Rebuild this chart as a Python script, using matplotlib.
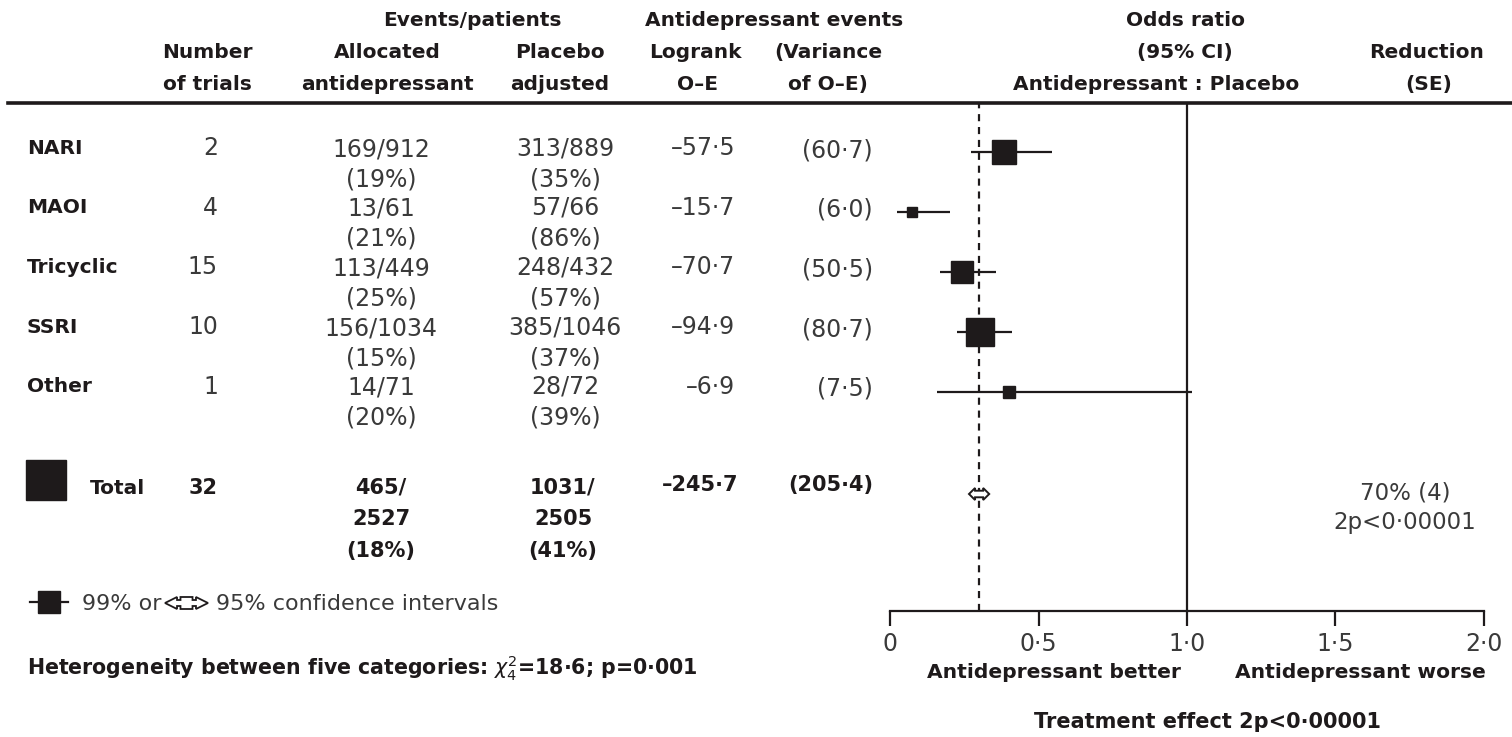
import matplotlib
matplotlib.use("Agg")
import matplotlib.pyplot as plt
import numpy as np
from matplotlib.patches import Polygon

# ---------------- data ----------------
categories = ["NARI", "MAOI", "Tricyclic", "SSRI", "Other"]
n_trials = [2, 4, 15, 10, 1]
anti_events = [169, 13, 113, 156, 14]
anti_patients = [912, 61, 449, 1034, 71]
anti_pct = [19, 21, 25, 15, 20]
placebo_events = [313, 57, 248, 385, 28]
placebo_patients = [889, 66, 432, 1046, 72]
placebo_pct = [35, 86, 57, 37, 39]
o_minus_e = [-57.5, -15.7, -70.7, -94.9, -6.9]
variance = [60.7, 6.0, 50.5, 80.7, 7.5]
odds_ratio = [0.385, 0.074, 0.243, 0.303, 0.40]
ci99_low = [0.273, 0.024, 0.168, 0.226, 0.158]
ci99_high = [0.545, 0.202, 0.357, 0.411, 1.017]

total_trials = 32
total_anti_events, total_anti_patients, total_anti_pct = 465, 2527, 18
total_plac_events, total_plac_patients, total_plac_pct = 1031, 2505, 41
total_oe = -245.7
total_var = 205.4
total_or = 0.30
total_ci95 = [0.266, 0.334]
reduction_text = ["70% (4)", "2p<0·00001"]
xticks = [0, 0.5, 1.0, 1.5, 2.0]
xticklabels = ["0", "0·5", "1·0", "1·5", "2·0"]


def num(v):
    s = f"{abs(v):.1f}".replace(".", "·")
    return ("–" + s) if v < 0 else s


# ---------------- styling ----------------
W, H = 1512, 737
DARK = "#1e1a1b"
GREY = "#3a3a3a"
BOLD = dict(family=["DejaVu Sans"], fontweight="bold", color=DARK)
REG = dict(family=["DejaVu Sans"], color=GREY)
HS = 14.5  # header size
BS = 17    # body numbers size


def box_px(var):
    return 4 + 2.6 * np.sqrt(var)


fig = plt.figure(figsize=(W / 100, H / 100), dpi=100)
fig.patch.set_facecolor("white")

tab = fig.add_axes([0, 0, 1, 1])
tab.set_xlim(0, W)
tab.set_ylim(H, 0)
tab.axis("off")

# header
hdr = [
    (472, 20, "Events/patients"), (774, 20, "Antidepressant events"), (1185, 20, "Odds ratio"),
    (207, 52, "Number"), (387, 52, "Allocated"), (560, 52, "Placebo"), (695, 52, "Logrank"),
    (828, 52, "(Variance"), (1185, 52, "(95% CI)"), (1427, 52, "Reduction"),
    (207, 84, "of trials"), (387, 84, "antidepressant"), (560, 84, "adjusted"), (697, 84, "O–E"),
    (828, 84, "of O–E)"), (1156, 84, "Antidepressant : Placebo"), (1429, 84, "(SE)"),
]
for x, y, s in hdr:
    tab.text(x, y, s, ha="center", va="center", fontsize=HS, **BOLD)
tab.axhline(103, xmin=8 / W, xmax=1, color=DARK, lw=2.6)

# rows
y0, dy = 148, 59.7
for i, cat in enumerate(categories):
    y = y0 + dy * i
    tab.text(27, y, cat, ha="left", va="center", fontsize=14.5, **BOLD)
    tab.text(218, y, str(n_trials[i]), ha="right", va="center", fontsize=BS, **REG)
    tab.text(381, y + 1, f"{anti_events[i]}/{anti_patients[i]}", ha="center", va="center", fontsize=BS, **REG)
    tab.text(381, y + 31, f"({anti_pct[i]}%)", ha="center", va="center", fontsize=BS, **REG)
    tab.text(565, y, f"{placebo_events[i]}/{placebo_patients[i]}", ha="center", va="center", fontsize=BS, **REG)
    tab.text(565, y + 31, f"({placebo_pct[i]}%)", ha="center", va="center", fontsize=BS, **REG)
    tab.text(735, y, num(o_minus_e[i]), ha="right", va="center", fontsize=BS, **REG)
    tab.text(873, y + 2, f"({num(variance[i])})", ha="right", va="center", fontsize=BS, **REG)

# total row
yt = 488
TS = 15
tab.plot([46], [480], marker="s", ms=box_px(total_var) * 0.72 * 0.95, color=DARK, mec=DARK)
tab.text(90, yt, "Total", ha="left", va="center", fontsize=14.5, **BOLD)
tab.text(218, yt, str(total_trials), ha="right", va="center", fontsize=TS, **BOLD)
tab.text(381, yt - 1, f"{total_anti_events}/", ha="center", va="center", fontsize=TS, **BOLD)
tab.text(381, yt + 31, f"{total_anti_patients}", ha="center", va="center", fontsize=TS, **BOLD)
tab.text(381, yt + 63, f"({total_anti_pct}%)", ha="center", va="center", fontsize=TS, **BOLD)
tab.text(563, yt - 1, f"{total_plac_events}/", ha="center", va="center", fontsize=TS, **BOLD)
tab.text(563, yt + 31, f"{total_plac_patients}", ha="center", va="center", fontsize=TS, **BOLD)
tab.text(563, yt + 63, f"({total_plac_pct}%)", ha="center", va="center", fontsize=TS, **BOLD)
tab.text(738, yt - 3, num(total_oe), ha="right", va="center", fontsize=TS, **BOLD)
tab.text(873, yt - 3, f"({num(total_var)})", ha="right", va="center", fontsize=TS, **BOLD)

# legend
tab.plot([30, 68], [602, 602], color=DARK, lw=1.6)
tab.plot([49], [602], marker="s", ms=15.5, color=DARK)
tab.text(82, 604, "99% or", ha="left", va="center", fontsize=16, **REG)
lx0, lx1 = 165, 208
lw_ = lx1 - lx0
arrow = [(lx0, 603), (lx0 + 0.28 * lw_, 597), (lx0 + 0.28 * lw_, 600), (lx0 + 0.36 * lw_, 600),
         (lx0 + 0.36 * lw_, 597), (lx1 - 0.36 * lw_, 597), (lx1 - 0.36 * lw_, 600),
         (lx1 - 0.28 * lw_, 600), (lx1 - 0.28 * lw_, 597), (lx1, 603),
         (lx1 - 0.28 * lw_, 609), (lx1 - 0.28 * lw_, 606), (lx1 - 0.36 * lw_, 606),
         (lx1 - 0.36 * lw_, 609), (lx0 + 0.36 * lw_, 609), (lx0 + 0.36 * lw_, 606),
         (lx0 + 0.28 * lw_, 606), (lx0 + 0.28 * lw_, 609)]
tab.add_patch(Polygon(arrow, closed=True, fc="white", ec=DARK, lw=1.3))
tab.text(216, 604, "95% confidence intervals", ha="left", va="center", fontsize=16, **REG)

tab.text(27, 668, r"Heterogeneity between five categories: $\chi^2_4$=18·6; p=0·001",
         ha="left", va="center", fontsize=14.8, **BOLD)

# right side texts
tab.text(1405, 493, reduction_text[0], ha="center", va="center", fontsize=16.5, **REG)
tab.text(1405, 522, reduction_text[1], ha="center", va="center", fontsize=16.5, **REG)
tab.text(1054, 673, "Antidepressant better", ha="center", va="center", fontsize=14.6, **BOLD)
tab.text(1360, 673, "Antidepressant worse", ha="center", va="center", fontsize=14.6, **BOLD)
tab.text(1208, 722, "Treatment effect 2p<0·00001", ha="center", va="center", fontsize=15, **BOLD)

# ---------------- forest axes ----------------
top_px, axis_px = 103, 611
x0_px, x2_px = 890, 1484
row0_px, row_dy = 152, 60.0
ax = fig.add_axes([x0_px / W, (H - axis_px) / H, (x2_px - x0_px) / W, (axis_px - top_px) / H])
ax.patch.set_alpha(0)
ax.set_xlim(0, 2)
ax.set_ylim((axis_px - row0_px) / row_dy, (top_px - row0_px) / row_dy)
total_y = (494 - row0_px) / row_dy

ax.axvline(1.0, color=DARK, lw=1.6, zorder=1)
ax.axvline(total_or, color=DARK, lw=1.6, dashes=(3.2, 2.6), zorder=1)

for i in range(len(categories)):
    ax.hlines(i, ci99_low[i], ci99_high[i], color=DARK, lw=1.6, zorder=2)
    ax.plot(odds_ratio[i], i, marker="s", ms=box_px(variance[i]) * 0.72,
            color=DARK, mec=DARK, zorder=3)

lo, hi = total_ci95
w = hi - lo
h = 0.1
c1, c2 = lo + 0.3 * w, hi - 0.3 * w
dpts = [(lo, total_y), (c1, total_y - h), (c1, total_y - h * 0.55), (c2, total_y - h * 0.55),
        (c2, total_y - h), (hi, total_y), (c2, total_y + h), (c2, total_y + h * 0.55),
        (c1, total_y + h * 0.55), (c1, total_y + h)]
ax.add_patch(Polygon(dpts, closed=True, fc="white", ec=DARK, lw=1.4, zorder=4))

for sp in ["top", "left", "right"]:
    ax.spines[sp].set_visible(False)
ax.spines["bottom"].set_linewidth(1.6)
ax.spines["bottom"].set_color(DARK)
ax.set_yticks([])
ax.set_xticks(xticks)
ax.set_xticklabels(xticklabels)
ax.tick_params(axis="x", direction="out", length=11, width=1.6, color=DARK, pad=4,
               labelsize=17, labelcolor=GREY)

fig.savefig("out.png", dpi=100, facecolor="white")
